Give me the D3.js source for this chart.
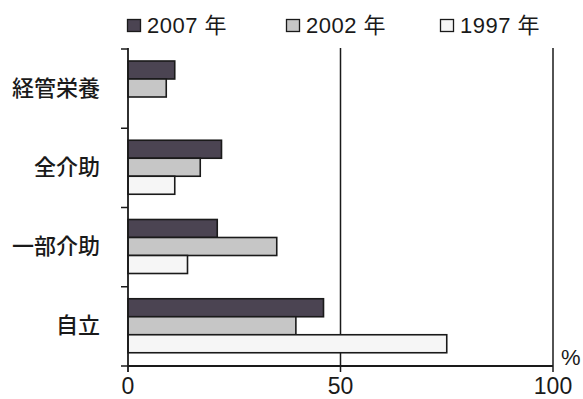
<!DOCTYPE html>
<html>
<head>
<meta charset="utf-8">
<script src="https://cdn.jsdelivr.net/npm/d3@7"></script>
<style>
  body { margin: 0; background: #fff; }
  svg { display: block; }
</style>
</head>
<body>
<div id="chart"></div>
<script>
// データ
const categories = ["経管栄養", "全介助", "一部介助", "自立"];
const series = ["2007 年", "2002 年", "1997 年"];
const v2007 = [11, 22, 21, 46];
const v2002 = [9, 17, 35, 39.5];
const v1997 = [null, 11, 14, 75];
const xTicks = [0, 50, 100];

const seriesValues = [v2007, v2002, v1997];
const colors = ["#4b4452", "#c6c6c6", "#f6f6f6"];

const width = 583, height = 399;
const svg = d3.select("#chart").append("svg")
  .attr("width", width)
  .attr("height", height);

const x = d3.scaleLinear().domain([0, 100]).range([128, 553]);
const y = d3.scaleBand().domain(categories).range([49, 366]).padding(0);
const ySub = d3.scaleBand().domain(series).range([12, 66]).padding(0);

const ink = "#1a1a1a";
const jp = "'Noto Sans CJK JP', sans-serif";
const latin = "'Liberation Sans', Arial, sans-serif";

// 縦の目盛線 (50, 100)
svg.append("g")
  .selectAll("line")
  .data(xTicks.filter(d => d > 0))
  .join("line")
  .attr("x1", d => x(d)).attr("x2", d => x(d))
  .attr("y1", 48).attr("y2", 372)
  .attr("stroke", ink).attr("stroke-width", 1.5);

// 棒
const rows = svg.append("g")
  .selectAll("g")
  .data(categories)
  .join("g")
  .attr("transform", d => `translate(0,${y(d)})`);

rows.selectAll("rect")
  .data((c, i) => series.map((s, j) => ({ s: s, v: seriesValues[j][i], j: j })).filter(d => d.v != null))
  .join("rect")
  .attr("x", x(0))
  .attr("y", d => ySub(d.s))
  .attr("width", d => x(d.v) - x(0))
  .attr("height", ySub.bandwidth())
  .attr("fill", d => colors[d.j])
  .attr("stroke", ink)
  .attr("stroke-width", 1.6);

// y軸
svg.append("line")
  .attr("x1", x(0)).attr("x2", x(0))
  .attr("y1", 48).attr("y2", 372)
  .attr("stroke", ink).attr("stroke-width", 1.8);

const yTickPos = categories.map(c => y(c)).concat([y.range()[1]]);
svg.append("g")
  .selectAll("line")
  .data(yTickPos)
  .join("line")
  .attr("x1", x(0) - 7).attr("x2", x(0))
  .attr("y1", d => d).attr("y2", d => d)
  .attr("stroke", ink).attr("stroke-width", 1.5);

// x軸
svg.append("line")
  .attr("x1", x(0)).attr("x2", x(100))
  .attr("y1", 366).attr("y2", 366)
  .attr("stroke", ink).attr("stroke-width", 1.8);

svg.append("g")
  .selectAll("text")
  .data(xTicks)
  .join("text")
  .attr("x", d => x(d))
  .attr("y", 394)
  .attr("text-anchor", "middle")
  .style("font-family", latin)
  .style("font-size", "23px")
  .attr("fill", ink)
  .text(d => d);

svg.append("text")
  .attr("x", 561).attr("y", 365)
  .style("font-family", latin)
  .style("font-size", "22px")
  .attr("fill", ink)
  .text("%");

// カテゴリ名
svg.append("g")
  .selectAll("text")
  .data(categories)
  .join("text")
  .attr("x", 100)
  .attr("y", d => y(d) + y.bandwidth() / 2 + 7)
  .attr("text-anchor", "end")
  .style("font-family", jp)
  .style("font-size", "22px")
  .style("font-weight", 500)
  .attr("fill", ink)
  .text(d => d);

// 凡例
const legendX = [127, 286, 440];
const legend = svg.append("g")
  .selectAll("g")
  .data(series)
  .join("g")
  .attr("transform", (d, i) => `translate(${legendX[i]},0)`);

legend.append("rect")
  .attr("x", 0.5).attr("y", 19.5)
  .attr("width", 13).attr("height", 12)
  .attr("fill", (d, i) => colors[i])
  .attr("stroke", ink).attr("stroke-width", 1.3);

legend.append("text")
  .attr("x", 20).attr("y", 33)
  .style("font-size", "22px")
  .attr("fill", ink)
  .each(function(d) {
    const parts = d.split(" ");
    const t = d3.select(this);
    t.append("tspan").style("font-family", latin).style("letter-spacing", "0.5px").text(parts[0] + " ");
    t.append("tspan").style("font-family", jp).text(parts[1]);
  });
</script>
</body>
</html>
